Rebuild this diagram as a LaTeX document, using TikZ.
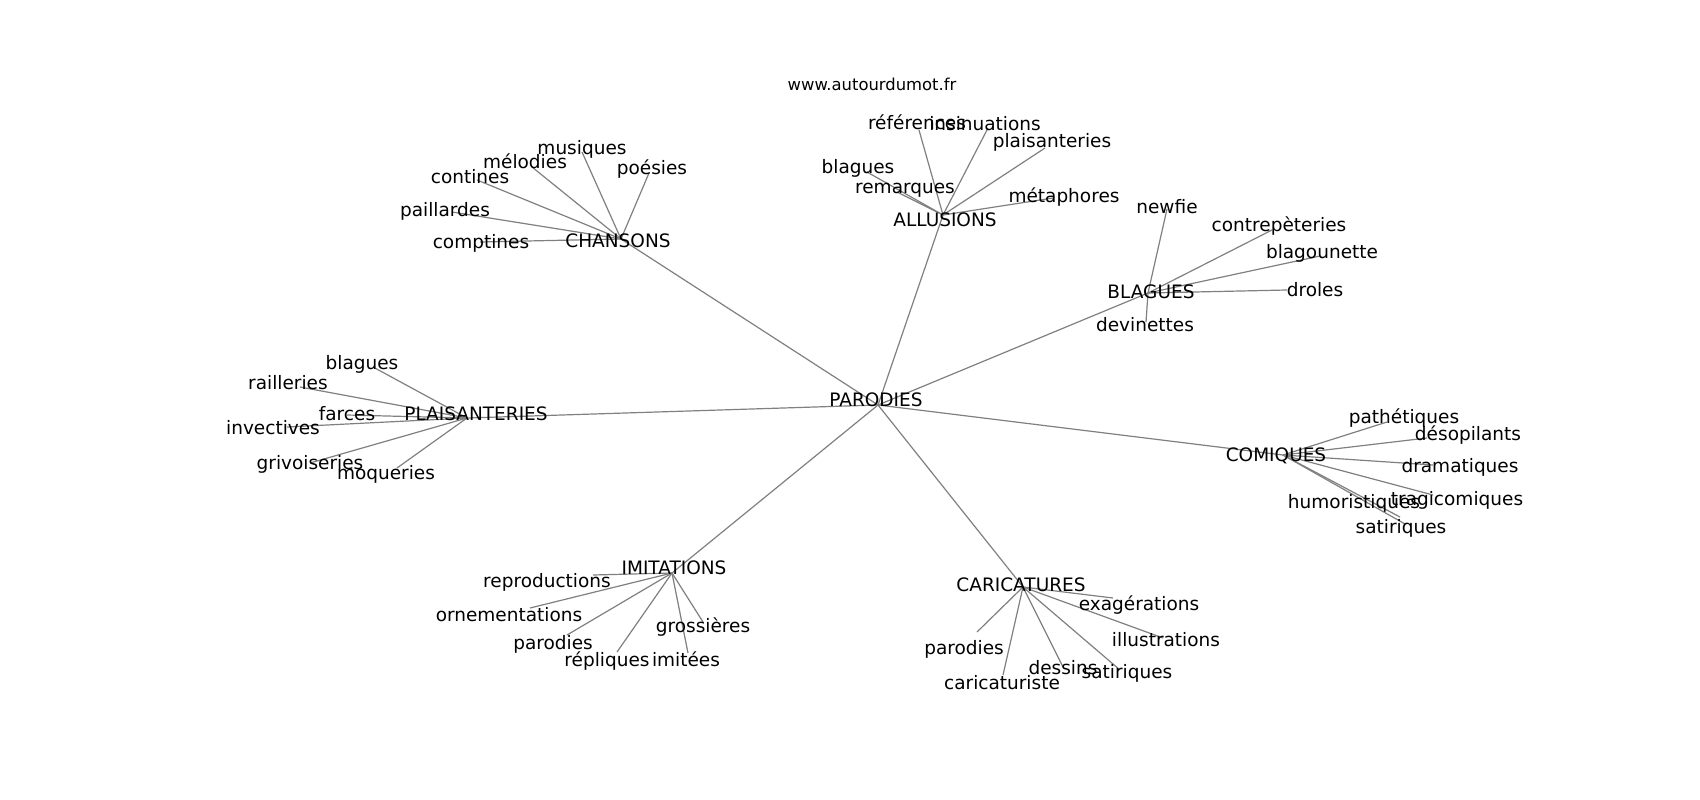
\documentclass[tikz,border=0pt]{standalone}
\usepackage{fontspec}
\setmainfont{DejaVu Sans}
\begin{document}
\begin{tikzpicture}[x=1pt,y=-1pt,
  edge/.style={draw=gray, line width=1.2pt},
  lbl/.style={inner sep=0pt, text height=13.5pt, text depth=0pt, anchor=center, font=\fontsize{18.5}{22}\selectfont},
  ttl/.style={inner sep=0pt, anchor=base, font=\fontsize{16.4}{20}\selectfont}]
\fill[white] (0,0) rectangle (1700,800);
\useasboundingbox (0,0) rectangle (1700,800);
% edge end points
\coordinate (pE) at (878,405);
\coordinate (chE) at (621,239);
\coordinate (alE) at (943,215);
\coordinate (blE) at (1148,293);
\coordinate (plE) at (467,418);
\coordinate (coE) at (1283,455);
\coordinate (imE) at (672,573);
\coordinate (caE) at (1023,587);
% chansons leaves
\coordinate (ch1E) at (582,152);
\coordinate (ch2E) at (532,167);
\coordinate (ch3E) at (649,173);
\coordinate (ch4E) at (477,180);
\coordinate (ch5E) at (452,212);
\coordinate (ch6E) at (480,242);
% allusions leaves
\coordinate (al1E) at (919,130);
\coordinate (al2E) at (988,128);
\coordinate (al3E) at (1045,148);
\coordinate (al4E) at (867,172);
\coordinate (al5E) at (897,192);
\coordinate (al6E) at (1053,198);
% blagues leaves
\coordinate (bl1E) at (1167,209);
\coordinate (bl2E) at (1272,230);
\coordinate (bl3E) at (1320,256);
\coordinate (bl4E) at (1287,290);
\coordinate (bl5E) at (1146,322);
% plaisanteries leaves
\coordinate (pl1E) at (373,367);
\coordinate (pl2E) at (300,387);
\coordinate (pl3E) at (347,415);
\coordinate (pl4E) at (287,427);
\coordinate (pl5E) at (310,463);
\coordinate (pl6E) at (397,468);
% comiques leaves
\coordinate (co1E) at (1387,422);
\coordinate (co2E) at (1427,438);
\coordinate (co3E) at (1433,465);
\coordinate (co4E) at (1433,495);
\coordinate (co5E) at (1400,517);
\coordinate (co6E) at (1405,524);
% imitations leaves
\coordinate (im1E) at (593,575);
\coordinate (im2E) at (530,608);
\coordinate (im3E) at (703,622);
\coordinate (im4E) at (567,635);
\coordinate (im5E) at (617,652);
\coordinate (im6E) at (688,653);
% caricatures leaves
\coordinate (ca1E) at (1113,598);
\coordinate (ca2E) at (1163,638);
\coordinate (ca3E) at (977,632);
\coordinate (ca4E) at (1063,667);
\coordinate (ca5E) at (1120,670);
\coordinate (ca6E) at (1003,675);
% edges
\foreach \h in {chE,alE,blE,plE,coE,imE,caE} \draw[edge] (pE) -- (\h);
\foreach \l in {ch1E,ch2E,ch3E,ch4E,ch5E,ch6E} \draw[edge] (chE) -- (\l);
\foreach \l in {al1E,al2E,al3E,al4E,al5E,al6E} \draw[edge] (alE) -- (\l);
\foreach \l in {bl1E,bl2E,bl3E,bl4E,bl5E} \draw[edge] (blE) -- (\l);
\foreach \l in {pl1E,pl2E,pl3E,pl4E,pl5E,pl6E} \draw[edge] (plE) -- (\l);
\foreach \l in {co1E,co2E,co3E,co4E,co5E,co6E} \draw[edge] (coE) -- (\l);
\foreach \l in {im1E,im2E,im3E,im4E,im5E,im6E} \draw[edge] (imE) -- (\l);
\foreach \l in {ca1E,ca2E,ca3E,ca4E,ca5E,ca6E} \draw[edge] (caE) -- (\l);
% labels
\node[ttl] (title) at (872,90) {www.autourdumot.fr};
\node[lbl] (p) at (876,400) {PARODIES};
\node[lbl] (ch) at (618,241) {CHANSONS};
\node[lbl] (al) at (945,220) {ALLUSIONS};
\node[lbl] (bl) at (1151,292) {BLAGUES};
\node[lbl] (pl) at (476,414) {PLAISANTERIES};
\node[lbl] (co) at (1276,455) {COMIQUES};
\node[lbl] (im) at (674,568) {IMITATIONS};
\node[lbl] (ca) at (1021,585) {CARICATURES};
\node[lbl] (ch1) at (582,148) {musiques};
\node[lbl] (ch2) at (525,162) {mélodies};
\node[lbl] (ch3) at (652,168) {poésies};
\node[lbl] (ch4) at (470,177) {contines};
\node[lbl] (ch5) at (445,210) {paillardes};
\node[lbl] (ch6) at (481,242) {comptines};
\node[lbl] (al1) at (917,123) {références};
\node[lbl] (al2) at (985,124) {insinuations};
\node[lbl] (al3) at (1052,141) {plaisanteries};
\node[lbl] (al4) at (858,167) {blagues};
\node[lbl] (al5) at (905,187) {remarques};
\node[lbl] (al6) at (1064,196) {métaphores};
\node[lbl] (bl1) at (1167,207) {newfie};
\node[lbl] (bl2) at (1279,225) {contrepèteries};
\node[lbl] (bl3) at (1322,252) {blagounette};
\node[lbl] (bl4) at (1315,290) {droles};
\node[lbl] (bl5) at (1145,325) {devinettes};
\node[lbl] (pl1) at (362,363) {blagues};
\node[lbl] (pl2) at (288,383) {railleries};
\node[lbl] (pl3) at (347,414) {farces};
\node[lbl] (pl4) at (273,428) {invectives};
\node[lbl] (pl5) at (310,463) {grivoiseries};
\node[lbl] (pl6) at (386,473) {moqueries};
\node[lbl] (co1) at (1404,417) {pathétiques};
\node[lbl] (co2) at (1468,434) {désopilants};
\node[lbl] (co3) at (1460,466) {dramatiques};
\node[lbl] (co4) at (1457,499) {tragicomiques};
\node[lbl] (co5) at (1354,502) {humoristiques};
\node[lbl] (co6) at (1401,527) {satiriques};
\node[lbl] (im1) at (547,581) {reproductions};
\node[lbl] (im2) at (509,615) {ornementations};
\node[lbl] (im3) at (703,626) {grossières};
\node[lbl] (im4) at (553,643) {parodies};
\node[lbl] (im5) at (607,660) {répliques};
\node[lbl] (im6) at (686,660) {imitées};
\node[lbl] (ca1) at (1139,604) {exagérations};
\node[lbl] (ca2) at (1166,640) {illustrations};
\node[lbl] (ca3) at (964,648) {parodies};
\node[lbl] (ca4) at (1063,668) {dessins};
\node[lbl] (ca5) at (1127,672) {satiriques};
\node[lbl] (ca6) at (1002,683) {caricaturiste};
\end{tikzpicture}
\end{document}
